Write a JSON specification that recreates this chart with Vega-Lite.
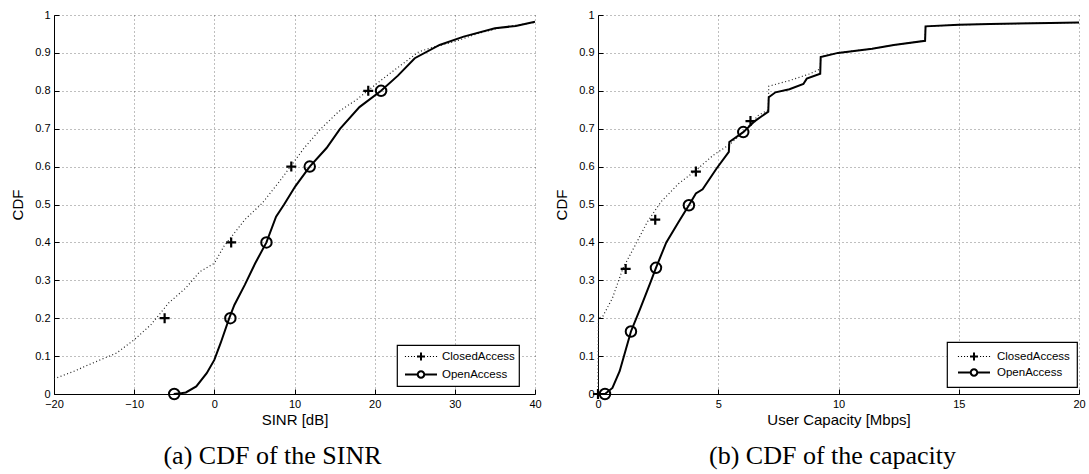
{
  "$schema": "https://vega.github.io/schema/vega-lite/v6.json",
  "background": "white",
  "padding": {"left": 10, "top": 9, "right": 4, "bottom": 3},
  "spacing": 63,
  "bounds": "flush",
  "config": {
    "view": {"stroke": null},
    "font": "Liberation Sans",
    "axis": {
      "domainColor": "black", "domainWidth": 1, "tickColor": "black", "tickSize": -5, "labelPadding": 9,
      "labelFont": "Liberation Sans", "labelFontSize": 11, "labelColor": "black",
      "titleFont": "Liberation Sans", "titleFontSize": 15, "titleFontWeight": "normal", "titleColor": "black",
      "grid": true, "gridColor": "#000000", "gridOpacity": 0.5, "gridDash": [1, 3],
      "labelFlush": false, "labelOverlap": false
    },
    "legend": {
      "labelFont": "Liberation Sans", "labelFontSize": 11.5, "labelColor": "black",
      "strokeColor": "black", "fillColor": "white", "strokeWidth": 1.2, "padding": 4,
      "symbolSize": 1024, "symbolStrokeWidth": 0, "symbolFillColor": "black", "symbolOpacity": 1,
      "clipHeight": 15, "rowPadding": 3, "labelOffset": 5, "symbolOffset": 4
    },
    "title": {"font": "Liberation Serif", "fontSize": 26, "fontWeight": "normal", "color": "black"}
  },
  "datasets": {
    "sinrLines": [
      {"series": "OpenAccess", "x": -5.07, "y": 0}, {"series": "OpenAccess", "x": -4.5, "y": 0.001},
      {"series": "OpenAccess", "x": -3.55, "y": 0.004}, {"series": "OpenAccess", "x": -2.25, "y": 0.02},
      {"series": "OpenAccess", "x": -0.95, "y": 0.055}, {"series": "OpenAccess", "x": 0, "y": 0.09},
      {"series": "OpenAccess", "x": 0.78, "y": 0.134}, {"series": "OpenAccess", "x": 1.86, "y": 0.2},
      {"series": "OpenAccess", "x": 2.5, "y": 0.235}, {"series": "OpenAccess", "x": 3.8, "y": 0.288},
      {"series": "OpenAccess", "x": 5.1, "y": 0.345}, {"series": "OpenAccess", "x": 6.5, "y": 0.4},
      {"series": "OpenAccess", "x": 7.7, "y": 0.468}, {"series": "OpenAccess", "x": 8.7, "y": 0.5},
      {"series": "OpenAccess", "x": 10.1, "y": 0.548}, {"series": "OpenAccess", "x": 11.9, "y": 0.6},
      {"series": "OpenAccess", "x": 14, "y": 0.649}, {"series": "OpenAccess", "x": 15.7, "y": 0.7},
      {"series": "OpenAccess", "x": 18.1, "y": 0.757}, {"series": "OpenAccess", "x": 20.8, "y": 0.8},
      {"series": "OpenAccess", "x": 22.9, "y": 0.84}, {"series": "OpenAccess", "x": 25, "y": 0.886},
      {"series": "OpenAccess", "x": 28.1, "y": 0.921}, {"series": "OpenAccess", "x": 31.1, "y": 0.943},
      {"series": "OpenAccess", "x": 35, "y": 0.965}, {"series": "OpenAccess", "x": 37.6, "y": 0.971},
      {"series": "OpenAccess", "x": 40, "y": 0.982},
      {"series": "ClosedAccess", "x": -20, "y": 0.04}, {"series": "ClosedAccess", "x": -17.5, "y": 0.06},
      {"series": "ClosedAccess", "x": -15.7, "y": 0.077}, {"series": "ClosedAccess", "x": -12.2, "y": 0.108},
      {"series": "ClosedAccess", "x": -10, "y": 0.143}, {"series": "ClosedAccess", "x": -7.9, "y": 0.183},
      {"series": "ClosedAccess", "x": -5.7, "y": 0.24}, {"series": "ClosedAccess", "x": -3.55, "y": 0.28},
      {"series": "ClosedAccess", "x": -1.8, "y": 0.323}, {"series": "ClosedAccess", "x": 0, "y": 0.345},
      {"series": "ClosedAccess", "x": 1.2, "y": 0.39}, {"series": "ClosedAccess", "x": 3.8, "y": 0.46},
      {"series": "ClosedAccess", "x": 6, "y": 0.504}, {"series": "ClosedAccess", "x": 8.1, "y": 0.56},
      {"series": "ClosedAccess", "x": 11.2, "y": 0.649}, {"series": "ClosedAccess", "x": 13.3, "y": 0.7},
      {"series": "ClosedAccess", "x": 15.5, "y": 0.745}, {"series": "ClosedAccess", "x": 17.7, "y": 0.776},
      {"series": "ClosedAccess", "x": 21.1, "y": 0.833}, {"series": "ClosedAccess", "x": 23.3, "y": 0.868},
      {"series": "ClosedAccess", "x": 25.5, "y": 0.903}, {"series": "ClosedAccess", "x": 27.6, "y": 0.917},
      {"series": "ClosedAccess", "x": 30, "y": 0.93}, {"series": "ClosedAccess", "x": 33, "y": 0.952},
      {"series": "ClosedAccess", "x": 36, "y": 0.968}, {"series": "ClosedAccess", "x": 40, "y": 0.98}
    ],
    "sinrMarkers": [
      {"series": "OpenAccess", "x": -5, "y": 0}, {"series": "OpenAccess", "x": 2, "y": 0.2},
      {"series": "OpenAccess", "x": 6.5, "y": 0.4}, {"series": "OpenAccess", "x": 11.9, "y": 0.6},
      {"series": "OpenAccess", "x": 20.8, "y": 0.8},
      {"series": "ClosedAccess", "x": -6.2, "y": 0.2}, {"series": "ClosedAccess", "x": 2.1, "y": 0.4},
      {"series": "ClosedAccess", "x": 9.6, "y": 0.6}, {"series": "ClosedAccess", "x": 19.2, "y": 0.8}
    ],
    "capLines": [
      {"series": "OpenAccess", "x": 0, "y": 0}, {"series": "OpenAccess", "x": 0.29, "y": 0},
      {"series": "OpenAccess", "x": 0.6, "y": 0.016}, {"series": "OpenAccess", "x": 0.9, "y": 0.06},
      {"series": "OpenAccess", "x": 1.37, "y": 0.165}, {"series": "OpenAccess", "x": 1.76, "y": 0.226},
      {"series": "OpenAccess", "x": 2.19, "y": 0.296}, {"series": "OpenAccess", "x": 2.41, "y": 0.333},
      {"series": "OpenAccess", "x": 2.84, "y": 0.4}, {"series": "OpenAccess", "x": 3.35, "y": 0.454},
      {"series": "OpenAccess", "x": 3.78, "y": 0.498}, {"series": "OpenAccess", "x": 4.07, "y": 0.529},
      {"series": "OpenAccess", "x": 4.35, "y": 0.54}, {"series": "OpenAccess", "x": 4.93, "y": 0.595},
      {"series": "OpenAccess", "x": 5.44, "y": 0.639}, {"series": "OpenAccess", "x": 5.46, "y": 0.665},
      {"series": "OpenAccess", "x": 6.04, "y": 0.691}, {"series": "OpenAccess", "x": 6.52, "y": 0.72},
      {"series": "OpenAccess", "x": 7.08, "y": 0.745}, {"series": "OpenAccess", "x": 7.1, "y": 0.783},
      {"series": "OpenAccess", "x": 7.38, "y": 0.796}, {"series": "OpenAccess", "x": 7.96, "y": 0.804},
      {"series": "OpenAccess", "x": 8.54, "y": 0.818}, {"series": "OpenAccess", "x": 8.68, "y": 0.832},
      {"series": "OpenAccess", "x": 9.24, "y": 0.845}, {"series": "OpenAccess", "x": 9.26, "y": 0.889},
      {"series": "OpenAccess", "x": 9.98, "y": 0.9}, {"series": "OpenAccess", "x": 11.4, "y": 0.911},
      {"series": "OpenAccess", "x": 12.3, "y": 0.921}, {"series": "OpenAccess", "x": 13.6, "y": 0.932},
      {"series": "OpenAccess", "x": 13.62, "y": 0.97}, {"series": "OpenAccess", "x": 15, "y": 0.974},
      {"series": "OpenAccess", "x": 16.3, "y": 0.976}, {"series": "OpenAccess", "x": 18.8, "y": 0.979},
      {"series": "OpenAccess", "x": 20, "y": 0.98},
      {"series": "ClosedAccess", "x": 0, "y": 0}, {"series": "ClosedAccess", "x": 0.02, "y": 0.2},
      {"series": "ClosedAccess", "x": 0.2, "y": 0.205}, {"series": "ClosedAccess", "x": 0.6, "y": 0.253},
      {"series": "ClosedAccess", "x": 1.04, "y": 0.332}, {"series": "ClosedAccess", "x": 1.61, "y": 0.4},
      {"series": "ClosedAccess", "x": 2.05, "y": 0.454}, {"series": "ClosedAccess", "x": 2.62, "y": 0.507},
      {"series": "ClosedAccess", "x": 3.35, "y": 0.555}, {"series": "ClosedAccess", "x": 4.07, "y": 0.59},
      {"series": "ClosedAccess", "x": 4.79, "y": 0.63}, {"series": "ClosedAccess", "x": 5.51, "y": 0.66},
      {"series": "ClosedAccess", "x": 6.23, "y": 0.704}, {"series": "ClosedAccess", "x": 6.66, "y": 0.735},
      {"series": "ClosedAccess", "x": 7.08, "y": 0.75}, {"series": "ClosedAccess", "x": 7.1, "y": 0.812},
      {"series": "ClosedAccess", "x": 7.96, "y": 0.827}, {"series": "ClosedAccess", "x": 8.82, "y": 0.845},
      {"series": "ClosedAccess", "x": 9.24, "y": 0.858}, {"series": "ClosedAccess", "x": 9.26, "y": 0.89},
      {"series": "ClosedAccess", "x": 9.98, "y": 0.9}, {"series": "ClosedAccess", "x": 11.4, "y": 0.911},
      {"series": "ClosedAccess", "x": 12.3, "y": 0.921}, {"series": "ClosedAccess", "x": 13.6, "y": 0.932},
      {"series": "ClosedAccess", "x": 13.62, "y": 0.97}, {"series": "ClosedAccess", "x": 15, "y": 0.974},
      {"series": "ClosedAccess", "x": 16.3, "y": 0.976}, {"series": "ClosedAccess", "x": 18.8, "y": 0.979},
      {"series": "ClosedAccess", "x": 20, "y": 0.98}
    ],
    "capMarkers": [
      {"series": "OpenAccess", "x": 0.29, "y": 0}, {"series": "OpenAccess", "x": 1.37, "y": 0.165},
      {"series": "OpenAccess", "x": 2.41, "y": 0.333}, {"series": "OpenAccess", "x": 3.78, "y": 0.498},
      {"series": "OpenAccess", "x": 6.04, "y": 0.691},
      {"series": "ClosedAccess", "x": 0, "y": 0}, {"series": "ClosedAccess", "x": 1.15, "y": 0.33},
      {"series": "ClosedAccess", "x": 2.38, "y": 0.46}, {"series": "ClosedAccess", "x": 4.07, "y": 0.587},
      {"series": "ClosedAccess", "x": 6.34, "y": 0.72}
    ]
  },
  "hconcat": [
    {
      "width": 481, "height": 379,
      "title": {"text": "(a)  CDF of the SINR", "orient": "bottom", "dx": -22, "offset": 16},
      "encoding": {
        "x": {"field": "x", "type": "quantitative", "scale": {"domain": [-20, 40], "nice": false},
              "axis": {"values": [-20, -10, 0, 10, 20, 30, 40], "title": "SINR [dB]", "titlePadding": 3}},
        "y": {"field": "y", "type": "quantitative", "scale": {"domain": [0, 1], "nice": false},
              "axis": {"values": [0, 0.1, 0.2, 0.3, 0.4, 0.5, 0.6, 0.7, 0.8, 0.9, 1], "format": ".1~f", "title": "CDF", "titlePadding": 9}}
      },
      "layer": [
        {"data": {"name": "sinrLines"}, "transform": [{"filter": "datum.series == 'ClosedAccess'"}],
         "mark": {"type": "line", "color": "#222222", "strokeWidth": 1.2, "strokeDash": [1, 2.5]}},
        {"data": {"name": "sinrLines"}, "transform": [{"filter": "datum.series == 'OpenAccess'"}],
         "mark": {"type": "line", "color": "black", "strokeWidth": 2}},
        {"data": {"name": "sinrMarkers"}, "transform": [{"filter": "datum.series == 'ClosedAccess'"}],
         "mark": {"type": "point", "filled": true, "color": "black", "opacity": 1, "size": 100,
                  "shape": "M-1,-0.22H1V0.22H-1Z M-0.22,-1H0.22V1H-0.22Z"}},
        {"data": {"name": "sinrMarkers"}, "transform": [{"filter": "datum.series == 'OpenAccess'"}],
         "mark": {"type": "point", "filled": false, "color": "black", "opacity": 1, "size": 110, "strokeWidth": 2, "shape": "circle"}},
        {"data": {"name": "sinrMarkers"},
         "mark": {"type": "point", "filled": true, "color": "black", "opacity": 0, "size": 1024},
         "encoding": {"shape": {"field": "series", "type": "nominal",
            "scale": {"domain": ["ClosedAccess", "OpenAccess"],
                      "range": ["M-1.005,-0.035h0.07v0.07h-0.07z M-0.815,-0.035h0.07v0.07h-0.07z M-0.625,-0.035h0.07v0.07h-0.07z M-0.445,-0.035h0.07v0.07h-0.07z M-0.25,-0.0625H0.25V0.0625H-0.25Z M-0.0625,-0.25H0.0625V0.25H-0.0625Z M0.375,-0.035h0.07v0.07h-0.07z M0.555,-0.035h0.07v0.07h-0.07z M0.745,-0.035h0.07v0.07h-0.07z M0.935,-0.035h0.07v0.07h-0.07z",
                                "M-1,-0.0625H-0.22V0.0625H-1Z M0.22,-0.0625H1V0.0625H0.22Z M0.27,0A0.27,0.27 0 1,1 -0.27,0A0.27,0.27 0 1,1 0.27,0Z M0.14,0A0.14,0.14 0 1,0 -0.14,0A0.14,0.14 0 1,0 0.14,0Z"]},
            "legend": {"title": null, "orient": "none", "legendX": 343, "legendY": 330,
                       "encode": {"symbols": {"update": {"opacity": {"value": 1}, "fill": {"value": "black"}, "strokeWidth": {"value": 0}}}}}}}}
      ],
      "resolve": {"scale": {"shape": "independent"}}
    },
    {
      "width": 481, "height": 379,
      "title": {"text": "(b) CDF of the capacity", "orient": "bottom", "dx": -6, "offset": 16},
      "encoding": {
        "x": {"field": "x", "type": "quantitative", "scale": {"domain": [0, 20], "nice": false},
              "axis": {"values": [0, 5, 10, 15, 20], "title": "User Capacity [Mbps]", "titlePadding": 3}},
        "y": {"field": "y", "type": "quantitative", "scale": {"domain": [0, 1], "nice": false},
              "axis": {"values": [0, 0.1, 0.2, 0.3, 0.4, 0.5, 0.6, 0.7, 0.8, 0.9, 1], "format": ".1~f", "title": "CDF", "titlePadding": 9}}
      },
      "layer": [
        {"data": {"name": "capLines"}, "transform": [{"filter": "datum.series == 'ClosedAccess'"}],
         "mark": {"type": "line", "color": "#222222", "strokeWidth": 1.2, "strokeDash": [1, 2.5]}},
        {"data": {"name": "capLines"}, "transform": [{"filter": "datum.series == 'OpenAccess'"}],
         "mark": {"type": "line", "color": "black", "strokeWidth": 2}},
        {"data": {"name": "capMarkers"}, "transform": [{"filter": "datum.series == 'ClosedAccess'"}],
         "mark": {"type": "point", "filled": true, "color": "black", "opacity": 1, "size": 100,
                  "shape": "M-1,-0.22H1V0.22H-1Z M-0.22,-1H0.22V1H-0.22Z"}},
        {"data": {"name": "capMarkers"}, "transform": [{"filter": "datum.series == 'OpenAccess'"}],
         "mark": {"type": "point", "filled": false, "color": "black", "opacity": 1, "size": 110, "strokeWidth": 2, "shape": "circle"}},
        {"data": {"name": "capMarkers"},
         "mark": {"type": "point", "filled": true, "color": "black", "opacity": 0, "size": 1024},
         "encoding": {"shape": {"field": "series", "type": "nominal",
            "scale": {"domain": ["ClosedAccess", "OpenAccess"],
                      "range": ["M-1.005,-0.035h0.07v0.07h-0.07z M-0.815,-0.035h0.07v0.07h-0.07z M-0.625,-0.035h0.07v0.07h-0.07z M-0.445,-0.035h0.07v0.07h-0.07z M-0.25,-0.0625H0.25V0.0625H-0.25Z M-0.0625,-0.25H0.0625V0.25H-0.0625Z M0.375,-0.035h0.07v0.07h-0.07z M0.555,-0.035h0.07v0.07h-0.07z M0.745,-0.035h0.07v0.07h-0.07z M0.935,-0.035h0.07v0.07h-0.07z",
                                "M-1,-0.0625H-0.22V0.0625H-1Z M0.22,-0.0625H1V0.0625H0.22Z M0.27,0A0.27,0.27 0 1,1 -0.27,0A0.27,0.27 0 1,1 0.27,0Z M0.14,0A0.14,0.14 0 1,0 -0.14,0A0.14,0.14 0 1,0 0.14,0Z"]},
            "legend": {"title": null, "orient": "none", "legendX": 349, "legendY": 327, "padding": 7, "rowPadding": 1, "labelOffset": 7,
                       "encode": {"symbols": {"update": {"opacity": {"value": 1}, "fill": {"value": "black"}, "strokeWidth": {"value": 0}}}}}}}}
      ],
      "resolve": {"scale": {"shape": "independent"}}
    }
  ],
  "resolve": {"scale": {"shape": "independent"}, "legend": {"shape": "independent"}}
}
